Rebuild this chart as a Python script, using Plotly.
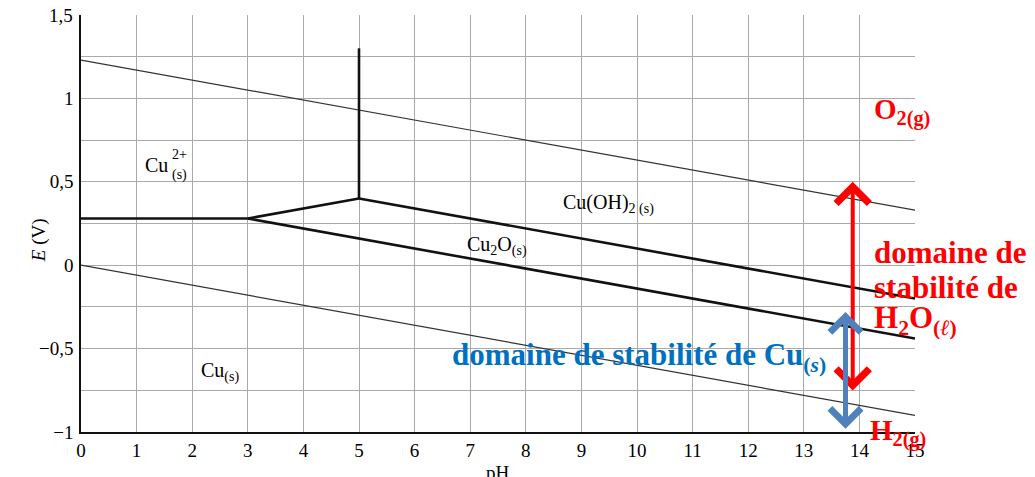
import plotly.graph_objects as go

# ---- data ----
water_ph = [0, 15]
o2_E = [1.23, 0.33]
h2_E = [0.0, -0.90]

cu2_cu_ph, cu2_cu_E = [0, 3], [0.28, 0.28]
cu2_cu2o_ph, cu2_cu2o_E = [3, 5], [0.28, 0.40]
cu2_cuoh2_ph, cu2_cuoh2_E = [5, 5], [0.40, 1.30]
cuoh2_cu2o_ph, cuoh2_cu2o_E = [5, 15], [0.40, -0.20]
cu2o_cu_ph, cu2o_cu_E = [3, 15], [0.28, -0.44]

x_ticks = list(range(0, 16))
x_ticktext = [str(v) for v in x_ticks]
y_ticks = [-1, -0.75, -0.5, -0.25, 0, 0.25, 0.5, 0.75, 1, 1.25, 1.5]
y_ticktext = ["\u22121", "", "\u22120,5", "", "0", "", "0,5", "", "1", "", ""]
y_top_label = (1.5, "1,5")

# arrows (pH, E_low, E_high)
h2o_arrow = (13.88, -0.76, 0.50)
cu_arrow = (13.75, -0.99, -0.28)

SERIF = "Liberation Serif"
BOLD = "Liberation Serif"

fig = go.Figure()
for xs, ys in [(water_ph, o2_E), (water_ph, h2_E)]:
    fig.add_trace(go.Scatter(x=xs, y=ys, mode="lines",
                             line=dict(color="#333333", width=1.2),
                             showlegend=False, hoverinfo="skip"))
for xs, ys in [(cu2_cu_ph, cu2_cu_E), (cu2_cu2o_ph, cu2_cu2o_E),
               (cu2_cuoh2_ph, cu2_cuoh2_E), (cuoh2_cu2o_ph, cuoh2_cu2o_E),
               (cu2o_cu_ph, cu2o_cu_E)]:
    fig.add_trace(go.Scatter(x=xs, y=ys, mode="lines",
                             line=dict(color="#111111", width=2.6),
                             showlegend=False, hoverinfo="skip"))

ann = []
def txt(x, y, text, size=20, color="black", family=SERIF, xanchor="left", **kw):
    ann.append(dict(x=x, y=y, xref="x", yref="y", text=text, showarrow=False,
                    xanchor=xanchor, yanchor="middle",
                    font=dict(family=family, size=size, color=color), **kw))

# species labels
txt(1.11, 0.60, "Cu")
txt(1.60, 0.665, "2+", size=14)
txt(1.60, 0.54, "(s)", size=14)
txt(8.63, 0.367, "Cu(OH)<sub>2 (s)</sub>")
txt(6.90, 0.115, "Cu<sub>2</sub>O<sub>(s)</sub>")
txt(2.13, -0.64, "Cu<sub>(s)</sub>")

# overlay texts
RED = "#FF0000"
BLUE = "#0070C0"
txt(14.22, 0.92, "<b>O<sub>2</sub><sub>(g)</sub></b>", size=29, color=RED, family=BOLD)
txt(14.22, 0.074, "<b>domaine de</b>", size=31, color=RED, family=BOLD)
txt(14.22, -0.131, "<b>stabilité de</b>", size=31, color=RED, family=BOLD)
txt(14.22, -0.33, "<b>H<sub>2</sub>O<sub>(<i>ℓ</i>)</sub></b>", size=31, color=RED, family=BOLD)
txt(14.16, -1.0, "<b>H<sub>2</sub><sub>(g)</sub></b>", size=29, color=RED, family=BOLD)
txt(6.64, -0.55, "<b>domaine de stabilité de Cu<sub>(<i>s</i>)</sub></b>", size=31,
    color=BLUE, family=BOLD)

# arrows
ann.append(dict(x=h2o_arrow[0], y=h2o_arrow[2], ax=h2o_arrow[0], ay=h2o_arrow[1],
                xref="x", yref="y", axref="x", ayref="y", text="", showarrow=True,
                arrowhead=4, startarrowhead=4, arrowside="end+start",
                arrowsize=1.6, startarrowsize=1.6, arrowwidth=4, arrowcolor=RED, standoff=0))
ann.append(dict(x=cu_arrow[0], y=cu_arrow[2], ax=cu_arrow[0], ay=cu_arrow[1],
                xref="x", yref="y", axref="x", ayref="y", text="", showarrow=True,
                arrowhead=4, startarrowhead=4, arrowside="end+start",
                arrowsize=1.2, startarrowsize=1.2, arrowwidth=5, arrowcolor="#4F81BD", standoff=0))

# top tick label drawn as an annotation (it sits right at the page edge)
ann.append(dict(x=0, y=y_top_label[0], xref="paper", yref="y", xanchor="right", xshift=-6,
                text=y_top_label[1], showarrow=False,
                font=dict(family=SERIF, size=19, color="black")))

# axis titles
ann.append(dict(x=0, y=0.15, xref="paper", yref="y", xshift=-55, text="<i>E</i> (V)",
                textangle=-90, showarrow=False, font=dict(family=SERIF, size=19, color="black")))
ann.append(dict(x=7.5, y=0, xref="x", yref="paper", yshift=-40, text="pH", yanchor="middle",
                showarrow=False, font=dict(family=SERIF, size=19, color="black")))

# the page body adds an 8px margin, so the figure is sized/margined to compensate
fig.update_layout(
    width=1027, height=469,
    margin=dict(l=73, r=120, t=7, b=45),
    paper_bgcolor="white", plot_bgcolor="white",
    annotations=ann,
    xaxis=dict(range=[0, 15], tickvals=x_ticks, ticktext=x_ticktext, automargin=False,
               showgrid=True, gridcolor="#aaaaaa", gridwidth=1, zeroline=False,
               showline=True, linecolor="#111111", linewidth=1.5,
               tickfont=dict(family=SERIF, size=19, color="black"), ticks=""),
    yaxis=dict(range=[-1, 1.5], tickvals=y_ticks, ticktext=y_ticktext, automargin=False,
               showgrid=True, gridcolor="#aaaaaa", gridwidth=1, zeroline=False,
               showline=True, linecolor="#111111", linewidth=1.5, ticklabelstandoff=2,
               tickfont=dict(family=SERIF, size=19, color="black"), ticks=""),
)
fig.write_html("out.html")
